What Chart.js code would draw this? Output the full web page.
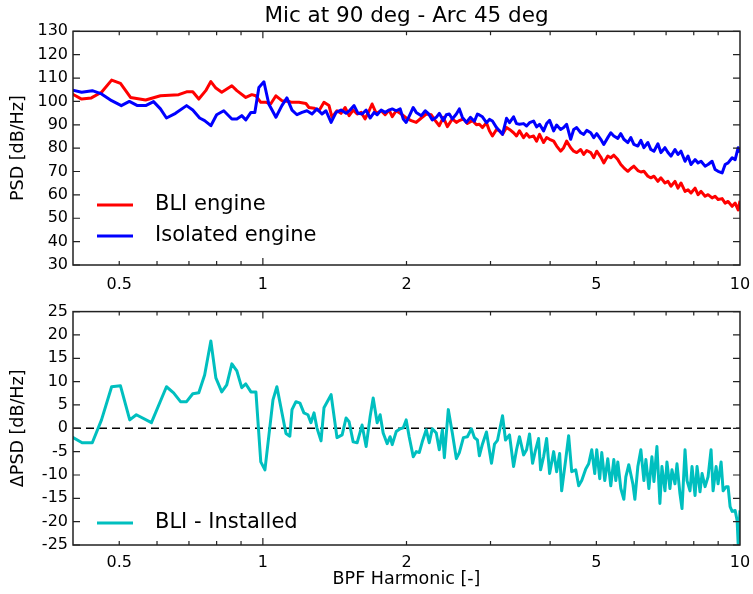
<!DOCTYPE html>
<html>
<head>
<meta charset="utf-8">
<script src="https://cdn.jsdelivr.net/npm/chart.js@4.4.0/dist/chart.umd.min.js"></script>
<style>
  html, body { margin: 0; padding: 0; background: #fff; }
  #wrap { position: relative; width: 753px; height: 594px; }
  canvas { position: absolute; left: 0; }
  #psdChart { top: 0; }
  #deltaChart { top: 297px; }
</style>
</head>
<body>
<div id="wrap">
  <canvas id="psdChart" width="753" height="297"></canvas>
  <canvas id="deltaChart" width="753" height="297"></canvas>
</div>
<script>
// BLI engine PSD (red)
const bliFreq = [
  0.391, 0.417, 0.437, 0.459, 0.482, 0.503, 0.528, 0.568, 0.610, 0.666,
  0.692, 0.713, 0.734, 0.759, 0.778, 0.797, 0.820, 0.861, 0.882, 0.921,
  0.948, 0.967, 0.990, 1.015, 1.039, 1.065, 1.096, 1.134, 1.150, 1.190,
  1.231, 1.249, 1.280, 1.311, 1.343, 1.376, 1.396, 1.430, 1.458, 1.487,
  1.516, 1.546, 1.576, 1.607, 1.638, 1.670, 1.694, 1.728, 1.770, 1.804,
  1.839, 1.867, 1.903, 1.950, 1.997, 2.046, 2.096, 2.148, 2.200, 2.254,
  2.298, 2.343, 2.389, 2.436, 2.495, 2.544, 2.581, 2.632, 2.683, 2.749,
  2.803, 2.843, 2.885, 2.942, 2.984, 3.028, 3.088, 3.132, 3.179, 3.241,
  3.288, 3.353, 3.401, 3.450, 3.519, 3.570, 3.622, 3.693, 3.747, 3.801,
  3.876, 3.933, 3.990, 4.069, 4.128, 4.208, 4.270, 4.332, 4.417, 4.482,
  4.547, 4.636, 4.704, 4.773, 4.866, 4.938, 5.009, 5.107, 5.182, 5.283,
  5.360, 5.439, 5.545, 5.626, 5.709, 5.820, 5.905, 5.992, 6.108, 6.198,
  6.289, 6.411, 6.505, 6.601, 6.729, 6.828, 6.962, 7.063, 7.166, 7.307,
  7.413, 7.521, 7.670, 7.781, 7.894, 8.050, 8.166, 8.286, 8.449, 8.571,
  8.740, 8.868, 8.996, 9.173, 9.308, 9.442, 9.628, 9.769, 9.911, 10.0
];
const bliPsd = [
  104.1, 101.0, 101.5, 103.9, 109.1, 107.7, 101.7, 100.6, 102.4, 102.9,
  104.1, 104.1, 101.0, 104.6, 108.5, 105.7, 103.9, 106.7, 104.6, 101.7,
  102.9, 102.4, 99.6, 99.6, 99.0, 102.4, 100.3, 100.0, 99.6, 99.6,
  99.1, 97.4, 97.1, 96.0, 99.6, 98.2, 93.2, 96.0, 94.9, 97.4,
  93.9, 96.3, 94.6, 95.3, 92.5, 96.0, 98.9, 94.9, 96.0, 94.3,
  96.3, 93.5, 96.0, 94.6, 92.9, 91.8, 91.0, 92.9, 94.6, 94.3,
  91.8, 89.6, 93.2, 89.2, 92.5, 91.0, 91.8, 92.5, 90.6, 91.8,
  90.0, 90.2, 88.8, 90.9, 87.4, 85.2, 88.0, 87.4, 85.9, 88.8,
  88.0, 86.6, 85.2, 87.4, 84.5, 86.2, 84.7, 85.2, 83.0, 85.9,
  82.4, 84.5, 83.8, 83.0, 80.9, 78.7, 80.2, 83.0, 80.2, 78.7,
  78.1, 79.4, 77.3, 79.0, 78.1, 75.9, 78.7, 76.2, 73.7, 76.6,
  75.9, 77.0, 75.1, 73.0, 71.6, 70.1, 71.3, 72.3, 70.4, 69.8,
  70.1, 68.0, 67.3, 68.0, 65.8, 67.3, 65.1, 65.8, 63.7, 65.8,
  62.9, 65.1, 61.5, 62.2, 60.8, 62.9, 60.1, 61.5, 59.4, 60.1,
  58.7, 59.4, 58.0, 58.4, 56.5, 57.2, 55.1, 56.5, 53.6, 57.5
];

// Isolated engine PSD (blue)
const isoFreq = [
  0.391, 0.417, 0.439, 0.459, 0.482, 0.505, 0.525, 0.546, 0.568, 0.590,
  0.610, 0.628, 0.656, 0.692, 0.713, 0.737, 0.755, 0.778, 0.800, 0.828,
  0.861, 0.882, 0.903, 0.921, 0.944, 0.962, 0.981, 1.005, 1.029, 1.065,
  1.096, 1.123, 1.151, 1.179, 1.208, 1.237, 1.268, 1.298, 1.330, 1.356,
  1.390, 1.424, 1.458, 1.494, 1.523, 1.553, 1.583, 1.614, 1.646, 1.678,
  1.711, 1.736, 1.770, 1.804, 1.839, 1.867, 1.903, 1.940, 1.969, 1.997,
  2.036, 2.066, 2.096, 2.148, 2.190, 2.221, 2.265, 2.309, 2.343, 2.389,
  2.424, 2.459, 2.495, 2.544, 2.581, 2.619, 2.670, 2.722, 2.776, 2.816,
  2.843, 2.885, 2.942, 2.984, 3.028, 3.088, 3.132, 3.179, 3.241, 3.288,
  3.353, 3.401, 3.450, 3.519, 3.570, 3.622, 3.693, 3.747, 3.801, 3.876,
  3.933, 3.990, 4.069, 4.128, 4.208, 4.270, 4.332, 4.417, 4.482, 4.547,
  4.636, 4.704, 4.773, 4.866, 4.938, 5.009, 5.107, 5.182, 5.283, 5.360,
  5.439, 5.545, 5.626, 5.709, 5.820, 5.905, 5.992, 6.108, 6.198, 6.289,
  6.411, 6.505, 6.601, 6.729, 6.828, 6.962, 7.063, 7.166, 7.307, 7.413,
  7.521, 7.670, 7.781, 7.894, 8.050, 8.166, 8.286, 8.449, 8.571, 8.740,
  8.868, 8.996, 9.173, 9.308, 9.442, 9.628, 9.769, 9.911, 10.0
];
const isoPsd = [
  105.3, 103.9, 104.6, 103.2, 100.3, 98.2, 100.0, 98.2, 98.2, 99.9,
  96.8, 92.9, 94.9, 98.2, 96.3, 92.9, 91.8, 89.6, 94.3, 96.0,
  92.5, 92.5, 93.9, 92.1, 95.3, 95.3, 106.0, 108.4, 98.9, 93.2,
  98.2, 101.5, 96.3, 94.3, 95.3, 96.0, 94.6, 96.8, 94.6, 96.0,
  91.0, 95.3, 96.3, 94.9, 96.3, 98.2, 94.9, 94.6, 96.3, 92.9,
  95.3, 94.3, 96.3, 95.3, 96.3, 96.8, 96.0, 96.8, 92.5, 91.0,
  94.6, 97.4, 95.3, 93.9, 96.0, 94.9, 92.1, 93.2, 94.9, 91.8,
  94.3, 94.6, 92.5, 94.6, 96.8, 93.2, 91.0, 93.2, 91.5, 94.6,
  94.2, 93.4, 90.9, 92.3, 91.6, 88.8, 87.4, 85.9, 92.8, 90.9,
  93.4, 90.5, 90.2, 90.5, 89.5, 90.9, 91.6, 89.1, 90.2, 87.4,
  90.5, 91.9, 87.4, 89.9, 88.0, 88.8, 90.2, 83.8, 88.0, 88.8,
  86.6, 85.9, 87.6, 86.6, 84.5, 86.2, 83.8, 81.6, 84.5, 86.6,
  85.2, 84.2, 86.2, 83.8, 82.4, 84.5, 81.6, 80.9, 83.3, 80.2,
  82.4, 79.4, 78.7, 81.9, 78.1, 80.2, 78.1, 76.6, 79.4, 77.3,
  78.7, 74.4, 76.6, 73.0, 75.1, 73.7, 74.4, 72.3, 73.0, 74.4,
  70.9, 70.1, 69.4, 73.0, 73.7, 75.9, 75.1, 80.2, 78.1
];

// BLI - Installed difference (cyan)
const deltaFreq = [
  0.391, 0.418, 0.439, 0.459, 0.482, 0.503, 0.526, 0.543, 0.584, 0.628,
  0.650, 0.672, 0.692, 0.713, 0.734, 0.755, 0.778, 0.797, 0.820, 0.840,
  0.861, 0.882, 0.903, 0.921, 0.944, 0.967, 0.990, 1.010, 1.050, 1.070,
  1.118, 1.139, 1.151, 1.173, 1.196, 1.219, 1.243, 1.261, 1.280, 1.298,
  1.324, 1.343, 1.390, 1.430, 1.466, 1.494, 1.516, 1.546, 1.576, 1.614,
  1.646, 1.678, 1.703, 1.736, 1.761, 1.787, 1.822, 1.848, 1.867, 1.903,
  1.940, 1.969, 1.997, 2.026, 2.066, 2.096, 2.127, 2.158, 2.200, 2.232,
  2.265, 2.309, 2.343, 2.378, 2.401, 2.447, 2.495, 2.544, 2.581, 2.632,
  2.683, 2.736, 2.776, 2.816, 2.843, 2.885, 2.942, 3.014, 3.058, 3.102,
  3.179, 3.225, 3.288, 3.353, 3.401, 3.450, 3.519, 3.570, 3.622, 3.675,
  3.729, 3.783, 3.820, 3.876, 3.933, 3.990, 4.069, 4.128, 4.188, 4.229,
  4.312, 4.374, 4.439, 4.526, 4.591, 4.659, 4.750, 4.818, 4.890, 4.961,
  5.009, 5.082, 5.132, 5.207, 5.283, 5.360, 5.439, 5.492, 5.545, 5.626,
  5.709, 5.764, 5.847, 5.963, 6.021, 6.108, 6.198, 6.289, 6.350, 6.442,
  6.537, 6.601, 6.697, 6.794, 6.861, 6.962, 7.029, 7.131, 7.201, 7.307,
  7.378, 7.484, 7.559, 7.670, 7.744, 7.856, 7.933, 8.050, 8.128, 8.245,
  8.327, 8.449, 8.571, 8.697, 8.782, 8.911, 8.996, 9.128, 9.218, 9.353,
  9.442, 9.533, 9.628, 9.769, 9.863, 9.911, 10.0
];
const deltaPsd = [
  -1.4, -3.1, -3.1, 1.8, 8.9, 9.1, 1.8, 2.9, 1.2, 8.9,
  7.6, 5.7, 5.7, 7.4, 7.6, 11.4, 18.7, 10.8, 7.8, 9.3,
  13.8, 12.3, 8.7, 9.5, 7.8, 7.8, -7.2, -8.9, 6.1, 8.9,
  -1.1, -1.7, 4.0, 5.7, 5.4, 3.3, 2.9, 1.2, 3.3, 0.1,
  -2.7, 4.4, 7.2, -2.0, -1.4, 2.2, 1.4, -2.9, -3.1, 0.7,
  -3.9, 2.5, 6.5, 1.2, 2.9, -1.0, -3.3, -1.8, -3.5, -0.7,
  -0.1, 0.1, 1.8, -1.8, -6.1, -5.0, -5.2, -2.9, -0.3, -3.1,
  -0.1, -1.0, -4.6, -0.3, -6.3, 4.0, -1.0, -6.5, -5.2, -2.0,
  -1.8, -0.1, -2.0, -2.5, -5.9, -3.4, -0.8, -7.5, -3.4, -2.6,
  2.7, -2.5, -1.4, -8.2, -4.6, -1.8, -5.7, -4.6, -1.2, -7.5,
  -4.6, -2.2, -8.9, -6.1, -2.2, -9.7, -5.0, -9.3, -5.4, -13.4,
  -6.7, -1.6, -9.3, -8.9, -12.3, -11.2, -8.7, -7.6, -4.6, -9.7,
  -4.6, -10.8, -5.2, -11.2, -6.5, -12.3, -6.7, -11.2, -7.2, -12.9,
  -15.2, -10.4, -7.8, -11.9, -15.2, -8.2, -4.6, -11.2, -6.7, -12.9,
  -6.1, -11.4, -3.9, -16.1, -8.2, -13.4, -7.2, -12.9, -8.9, -11.9,
  -7.6, -14.0, -17.2, -4.6, -11.2, -13.4, -8.2, -14.4, -8.2, -13.6,
  -9.7, -12.5, -10.4, -4.6, -13.4, -8.2, -11.9, -7.2, -13.4, -12.5,
  -12.5, -16.8, -17.8, -17.6, -19.8, -24.7, -17.6
];

const xLimits = [0.4, 10];
const xTickLabels = [0.5, 1, 2, 5, 10];
const xMinorTicks = [0.5, 0.6, 0.7, 0.8, 0.9, 2, 3, 4, 5, 6, 7, 8, 9];
const xMajorTicks = [1];
const zeroLevel = 0;

const FONT = "'DejaVu Sans', 'Liberation Sans', sans-serif";

const pts = (xs, ys) => xs.map((x, i) => ({ x: x, y: ys[i] }));

// inward ticks on all four sides plus the axes frame
const frameTicks = {
  id: 'frameTicks',
  afterDatasetsDraw(chart) {
    const { ctx, chartArea: a, scales } = chart;
    const x = scales.x, y = scales.y;
    ctx.save();
    ctx.strokeStyle = '#222';
    ctx.lineWidth = 1.2;
    ctx.beginPath();
    const tick = (px, len) => {
      ctx.moveTo(px, a.top); ctx.lineTo(px, a.top + len);
      ctx.moveTo(px, a.bottom); ctx.lineTo(px, a.bottom - len);
    };
    xMinorTicks.forEach(v => tick(x.getPixelForValue(v), 4));
    xMajorTicks.forEach(v => tick(x.getPixelForValue(v), 7));
    y.ticks.forEach(t => {
      const py = y.getPixelForValue(t.value);
      ctx.moveTo(a.left, py); ctx.lineTo(a.left + 7, py);
      ctx.moveTo(a.right, py); ctx.lineTo(a.right - 7, py);
    });
    ctx.stroke();
    ctx.lineWidth = 1.5;
    ctx.strokeRect(a.left, a.top, a.right - a.left, a.bottom - a.top);
    ctx.restore();
  }
};

// matplotlib-like legend in the lower left corner
const cornerLegend = {
  id: 'cornerLegend',
  afterDraw(chart, args, opts) {
    const { ctx, chartArea: a } = chart;
    const items = chart.data.datasets.filter(d => d.label);
    ctx.save();
    ctx.font = '21px ' + FONT;
    ctx.textBaseline = 'middle';
    ctx.fillStyle = '#000';
    items.forEach((d, i) => {
      const py = a.bottom - opts.bottomGap - (items.length - 1 - i) * opts.rowGap;
      ctx.strokeStyle = d.borderColor;
      ctx.lineWidth = 3;
      ctx.beginPath();
      ctx.moveTo(a.left + 24, py);
      ctx.lineTo(a.left + 60, py);
      ctx.stroke();
      ctx.fillText(d.label, a.left + 82, py);
    });
    ctx.restore();
  }
};

function xScale(withTitle) {
  return {
    type: 'logarithmic',
    min: xLimits[0],
    max: xLimits[1],
    grid: { display: false, drawTicks: false },
    border: { display: false },
    afterBuildTicks: s => { s.ticks = xTickLabels.map(v => ({ value: v })); },
    ticks: {
      color: '#000', font: { family: FONT, size: 16 }, padding: withTitle ? 8 : 10,
      autoSkip: false, maxRotation: 0, callback: v => String(v)
    },
    title: {
      display: withTitle, text: 'BPF Harmonic [-]', color: '#000',
      font: { family: FONT, size: 17.5 }, padding: { top: 0, bottom: 4 }
    },
    afterFit: s => {
      s.height = withTitle ? 49 : 32;
      s.paddingLeft = 0;
      s.paddingRight = 0;
    }
  };
}

function yScale(min, max, step, title) {
  return {
    min: min,
    max: max,
    grid: { display: false, drawTicks: false },
    border: { display: false },
    ticks: { stepSize: step, color: '#000', font: { family: FONT, size: 16 }, padding: 5 },
    title: {
      display: true, text: title, color: '#000',
      font: { family: FONT, size: 17.5 }, padding: { top: 8, bottom: 0 }
    },
    afterFit: s => { s.width = 73; }
  };
}

const lineStyle = { pointRadius: 0, borderWidth: 3, tension: 0, borderJoinStyle: 'round', clip: 0 };

new Chart(document.getElementById('psdChart'), {
  type: 'line',
  data: {
    datasets: [
      Object.assign({ label: 'BLI engine', data: pts(bliFreq, bliPsd), borderColor: '#ff0000', order: 2 }, lineStyle),
      Object.assign({ label: 'Isolated engine', data: pts(isoFreq, isoPsd), borderColor: '#0000ff', order: 1 }, lineStyle)
    ]
  },
  options: {
    responsive: false,
    animation: false,
    layout: { padding: { left: 0, right: 13, top: 0, bottom: 0 } },
    scales: { x: xScale(false), y: yScale(30, 130, 10, 'PSD [dB/Hz]') },
    plugins: {
      legend: { display: false },
      tooltip: { enabled: false },
      title: {
        display: true, fullSize: false, text: 'Mic at 90 deg - Arc 45 deg', color: '#000',
        font: { family: FONT, size: 21.5, weight: 'normal' }, padding: { top: 4, bottom: 1.5 }
      },
      cornerLegend: { bottomGap: 29, rowGap: 31 }
    }
  },
  plugins: [frameTicks, cornerLegend]
});

new Chart(document.getElementById('deltaChart'), {
  type: 'line',
  data: {
    datasets: [
      Object.assign({ label: 'BLI - Installed', data: pts(deltaFreq, deltaPsd), borderColor: '#00bfbf', order: 1 }, lineStyle),
      {
        label: '', data: xLimits.map(x => ({ x: x, y: zeroLevel })), borderColor: '#000',
        borderWidth: 1.5, borderDash: [8, 5], pointRadius: 0, order: 2
      }
    ]
  },
  options: {
    responsive: false,
    animation: false,
    layout: { padding: { left: 0, right: 13, top: 14, bottom: 0 } },
    scales: { x: xScale(true), y: yScale(-25, 25, 5, '\u0394PSD [dB/Hz]') },
    plugins: {
      legend: { display: false },
      tooltip: { enabled: false },
      title: { display: false },
      cornerLegend: { bottomGap: 22, rowGap: 31 }
    }
  },
  plugins: [frameTicks, cornerLegend]
});
</script>
</body>
</html>
